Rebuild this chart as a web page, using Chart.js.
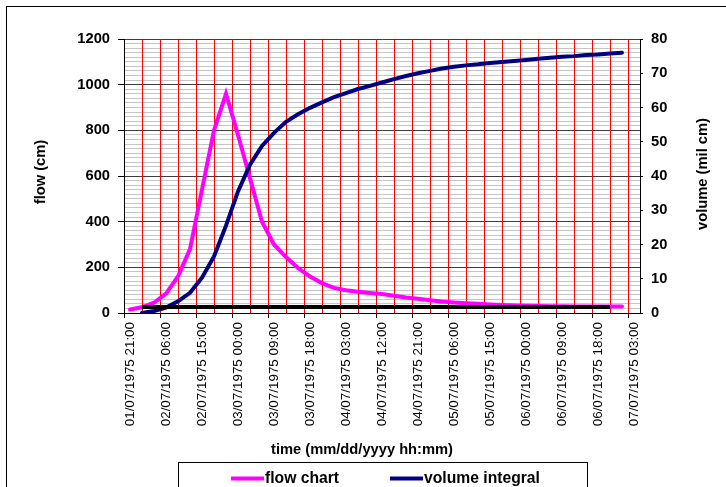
<!DOCTYPE html>
<html>
<head>
<meta charset="utf-8">
<script src="https://cdn.jsdelivr.net/npm/chart.js@4.4.1/dist/chart.umd.min.js"></script>
<style>
  html, body { margin: 0; padding: 0; background: #fff; }
  #wrap { width: 726px; height: 487px; }
</style>
</head>
<body>
<div id="wrap"><canvas id="flowChart" width="726" height="487"></canvas></div>
<script>
// x axis origin and labelled ticks (every 9 hours)
const startTime = '01/07/1975 21:00';
const tickLabels = [
  '01/07/1975 21:00', '02/07/1975 06:00', '02/07/1975 15:00', '03/07/1975 00:00',
  '03/07/1975 09:00', '03/07/1975 18:00', '04/07/1975 03:00', '04/07/1975 12:00',
  '04/07/1975 21:00', '05/07/1975 06:00', '05/07/1975 15:00', '06/07/1975 00:00',
  '06/07/1975 09:00', '06/07/1975 18:00', '07/07/1975 03:00'
];

// measurement times
const times = [
  '01/07/1975 22:30',
  '02/07/1975 01:30', '02/07/1975 04:30', '02/07/1975 07:30', '02/07/1975 10:30',
  '02/07/1975 13:30', '02/07/1975 16:30', '02/07/1975 19:30', '02/07/1975 22:30',
  '03/07/1975 01:30', '03/07/1975 04:30', '03/07/1975 07:30', '03/07/1975 10:30',
  '03/07/1975 13:30', '03/07/1975 16:30', '03/07/1975 19:30', '03/07/1975 22:30',
  '04/07/1975 01:30', '04/07/1975 04:30', '04/07/1975 07:30', '04/07/1975 10:30',
  '04/07/1975 13:30', '04/07/1975 16:30', '04/07/1975 19:30', '04/07/1975 22:30',
  '05/07/1975 01:30', '05/07/1975 04:30', '05/07/1975 07:30', '05/07/1975 10:30',
  '05/07/1975 13:30', '05/07/1975 16:30', '05/07/1975 19:30', '05/07/1975 22:30',
  '06/07/1975 01:30', '06/07/1975 04:30', '06/07/1975 07:30', '06/07/1975 10:30',
  '06/07/1975 13:30', '06/07/1975 16:30', '06/07/1975 19:30', '06/07/1975 22:30',
  '07/07/1975 01:30'
];

// flow (cm)
const flow = [
  15, 25, 45, 85, 160, 280, 540, 800, 960, 780, 590, 400, 300, 245, 197, 160, 131,
  110, 100, 93, 88, 83, 76, 68, 62, 56, 50, 46, 43, 40, 37, 35, 33, 32, 31, 30,
  30, 29, 29, 28, 28, 28
];

// volume integral (mil cm), starts at second time step
const volume = [
  null, 0, 0.6, 1.6, 3.4, 5.9, 10.3, 16.5, 25.5, 35.5, 43.3, 48.8, 52.6, 55.8, 58,
  59.9, 61.5, 63, 64.2, 65.4, 66.3, 67.3, 68.3, 69.2, 70, 70.7, 71.4, 71.9, 72.3,
  72.6, 73.0, 73.3, 73.6, 73.9, 74.2, 74.5, 74.8, 75.0, 75.3, 75.5, 75.8, 76.0
];

// base flow line
const baseflow = 26;
const baseflowFrom = '02/07/1975 01:30';
const baseflowTo = '06/07/1975 22:30';

function toDate(s) {
  const [d, t] = s.split(' ');
  const [dd, mm, yyyy] = d.split('/').map(Number);
  const [hh, mi] = t.split(':').map(Number);
  return Date.UTC(yyyy, mm - 1, dd, hh, mi);
}
function hours(s) {
  return (toDate(s) - toDate(startTime)) / 3600000;
}
function isMultiple(v, step) {
  return Math.abs(v / step - Math.round(v / step)) < 1e-6;
}

const FONT = '"Liberation Sans", Arial, sans-serif';

const flowData = times.map((t, i) => ({ x: hours(t), y: flow[i] }));
const volumeData = times.map((t, i) => ({ x: hours(t), y: volume[i] }));
const baseData = [
  { x: hours(baseflowFrom), y: baseflow },
  { x: hours(baseflowTo), y: baseflow }
];

const frameAndTitles = {
  id: 'frameAndTitles',
  afterDraw(chart) {
    const c = chart.ctx;
    c.save();
    c.strokeStyle = '#000';
    c.lineWidth = 1;
    c.strokeRect(6.5, 6.5, 760, 520);

    c.fillStyle = '#000';
    c.font = 'bold 14.7px ' + FONT;
    c.textAlign = 'center';
    c.textBaseline = 'middle';
    c.save(); c.translate(41, 172); c.rotate(-Math.PI / 2); c.fillText('flow (cm)', 0, 0); c.restore();
    c.save(); c.translate(703, 174); c.rotate(-Math.PI / 2); c.fillText('volume (mil cm)', 0, 0); c.restore();
    c.fillText('time (mm/dd/yyyy hh:mm)', 362, 450);

    // legend
    c.strokeRect(178.5, 462.5, 409, 40);
    const items = [
      { ds: chart.data.datasets[0], x0: 231, x1: 264, tx: 265 },
      { ds: chart.data.datasets[1], x0: 390, x1: 423, tx: 424 }
    ];
    c.font = 'bold 15.7px ' + FONT;
    c.textAlign = 'left';
    items.forEach(it => {
      c.strokeStyle = it.ds.borderColor;
      c.lineWidth = 4;
      c.beginPath();
      c.moveTo(it.x0, 478.5);
      c.lineTo(it.x1, 478.5);
      c.stroke();
      c.fillText(it.ds.label, it.tx, 479);
    });
    c.restore();
  }
};

new Chart(document.getElementById('flowChart'), {
  type: 'line',
  data: {
    datasets: [{
      label: 'flow chart',
      data: flowData,
      yAxisID: 'y',
      borderColor: '#ff00ff',
      backgroundColor: '#ff00ff',
      borderWidth: 4,
      pointRadius: 0,
      tension: 0,
      borderCapStyle: 'round',
      order: 2
    }, {
      label: 'volume integral',
      data: volumeData,
      yAxisID: 'y2',
      borderColor: '#000080',
      backgroundColor: '#000080',
      borderWidth: 4,
      pointRadius: 0,
      tension: 0,
      borderCapStyle: 'round',
      order: 1
    }, {
      label: 'base flow',
      data: baseData,
      yAxisID: 'y',
      borderColor: '#000000',
      backgroundColor: '#000000',
      borderWidth: 4,
      pointRadius: 0,
      order: 0
    }]
  },
  options: {
    responsive: false,
    animation: false,
    devicePixelRatio: 1,
    layout: { padding: { top: 39, left: 0, right: 0, bottom: 0 } },
    plugins: {
      legend: { display: false },
      tooltip: { enabled: false }
    },
    scales: {
      x: {
        type: 'linear',
        min: 0,
        max: 129,
        afterFit: s => { s.height = 174; },
        border: { color: '#000', width: 1 },
        grid: {
          z: -1,
          color: ctx => ctx.tick && ctx.tick.value === 0 ? 'rgba(0,0,0,0)' : '#ff0000',
          tickColor: ctx => ctx.tick && isMultiple(ctx.tick.value, 9) ? '#000' : 'rgba(0,0,0,0)',
          tickLength: 5,
          lineWidth: 1
        },
        ticks: {
          stepSize: 4.5,
          includeBounds: false,
          autoSkip: false,
          maxTicksLimit: 1000,
          minRotation: 90,
          maxRotation: 90,
          padding: 4,
          labelOffset: 6,
          color: '#000',
          font: { family: FONT, size: 13.4 },
          callback: v => isMultiple(v, 9) ? tickLabels[Math.round(v / 9)] : ''
        }
      },
      y: {
        position: 'left',
        min: 0,
        max: 1200,
        afterFit: s => { s.width = 124; },
        border: { color: '#000', width: 1 },
        grid: {
          z: -2,
          color: ctx => ctx.tick && isMultiple(ctx.tick.value, 200) ? '#3c3c3c' : '#c4c4c4',
          tickColor: ctx => ctx.tick && isMultiple(ctx.tick.value, 200) ? '#000' : 'rgba(0,0,0,0)',
          tickLength: 6
        },
        ticks: {
          stepSize: 20,
          autoSkip: false,
          maxTicksLimit: 1000,
          padding: 8,
          color: '#000',
          font: { family: FONT, size: 14.7, weight: 'bold' },
          callback: v => isMultiple(v, 200) ? v : ''
        }
      },
      y2: {
        position: 'right',
        min: 0,
        max: 80,
        afterFit: s => { s.width = 86; },
        border: { color: '#000', width: 1 },
        grid: {
          drawOnChartArea: false,
          tickColor: '#000',
          tickLength: 3
        },
        ticks: {
          stepSize: 10,
          autoSkip: false,
          padding: 8,
          color: '#000',
          font: { family: FONT, size: 14.7, weight: 'bold' }
        }
      }
    }
  },
  plugins: [frameAndTitles]
});
</script>
</body>
</html>
